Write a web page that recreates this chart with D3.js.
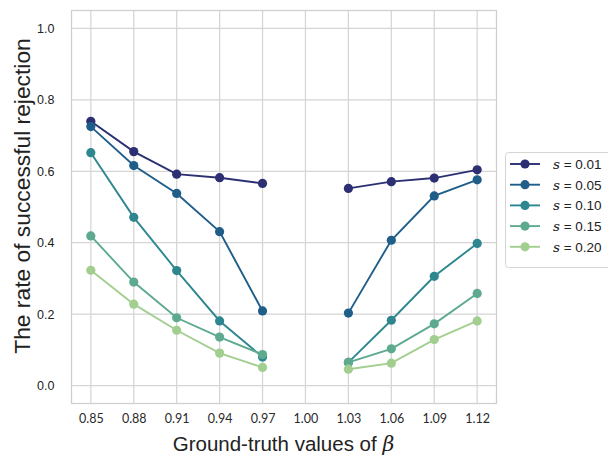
<!DOCTYPE html>
<html><head><meta charset="utf-8">
<script src="https://cdn.jsdelivr.net/npm/d3@7"></script>
<style>body{margin:0;background:#fff}svg{display:block}</style>
</head><body>
<script>
const betaValues = [0.85, 0.88, 0.91, 0.94, 0.97, 1.00, 1.03, 1.06, 1.09, 1.12];
const tickLabels = ["0.85","0.88","0.91","0.94","0.97","1.00","1.03","1.06","1.09","1.12"];
const yTicks = [0.0, 0.2, 0.4, 0.6, 0.8, 1.0];
const seriesNames = ["0.01", "0.05", "0.10", "0.15", "0.20"];
const s001 = [0.740, 0.655, 0.592, 0.582, 0.566, null, 0.552, 0.571, 0.581, 0.604];
const s005 = [0.725, 0.616, 0.538, 0.431, 0.209, null, 0.203, 0.407, 0.531, 0.576];
const s010 = [0.652, 0.471, 0.322, 0.181, 0.080, null, 0.065, 0.183, 0.306, 0.398];
const s015 = [0.419, 0.290, 0.190, 0.136, 0.087, null, 0.065, 0.103, 0.173, 0.258];
const s020 = [0.323, 0.228, 0.155, 0.091, 0.051, null, 0.046, 0.063, 0.129, 0.181];
const seriesValues = [s001, s005, s010, s015, s020];
const colors = ["#2c2f72", "#205e8a", "#2e878f", "#5eaa8f", "#a2cf90"];

const W = 608, H = 459;
const pL = 71.5, pR = 496.5, pT = 10.5, pB = 403.5;
const svg = d3.select("body").append("svg").attr("width", W).attr("height", H);

const xs = d3.scaleLinear().domain([0.85 - 0.0135, 1.12 + 0.0135]).range([pL, pR]);
const ys = d3.scaleLinear().domain([-0.05, 1.05]).range([pB, pT]);

// grid
const grid = svg.append("g");
grid.selectAll("line.v").data(betaValues).enter().append("line")
  .attr("x1", d => xs(d)).attr("x2", d => xs(d)).attr("y1", pT).attr("y2", pB)
  .attr("stroke", "#d5d5d5").attr("stroke-width", 1.25);
grid.selectAll("line.h").data(yTicks).enter().append("line")
  .attr("y1", d => ys(d)).attr("y2", d => ys(d)).attr("x1", pL).attr("x2", pR)
  .attr("stroke", "#d5d5d5").attr("stroke-width", 1.25);

// axes
const xAxis = d3.axisBottom(xs).tickValues(betaValues).tickFormat((d,i) => tickLabels[i]).tickSize(0).tickPadding(11);
const gx = svg.append("g").attr("transform", `translate(0,${pB})`).call(xAxis);
gx.select(".domain").remove();
gx.selectAll("text").attr("font-family", "Lato, 'Liberation Sans', sans-serif").attr("font-size", 12.5).attr("fill", "#2a2a2a");

const yAxis = d3.axisLeft(ys).tickValues(yTicks).tickFormat(d3.format(".1f")).tickSize(0).tickPadding(17);
const gy = svg.append("g").attr("transform", `translate(${pL},0)`).call(yAxis);
gy.select(".domain").remove();
gy.selectAll("text").attr("font-family", "'Liberation Sans', Arial, sans-serif").attr("font-size", 12.5).attr("fill", "#222");

// frame
svg.append("rect").attr("x", pL).attr("y", pT).attr("width", pR - pL).attr("height", pB - pT)
  .attr("fill", "none").attr("stroke", "#cfcfcf").attr("stroke-width", 1.25);

// labels
const xl = svg.append("text").attr("x", 283.5).attr("y", 451).attr("text-anchor", "middle")
  .attr("font-family", "'Liberation Sans', Arial, sans-serif").attr("font-size", 20.5).attr("fill", "#222");
xl.append("tspan").text("Ground-truth values of ");
xl.append("tspan").attr("font-style", "italic").attr("font-family", "'DejaVu Serif', serif").text("β");

svg.append("text").attr("transform", `translate(30,196) rotate(-90)`).attr("text-anchor", "middle")
  .attr("font-family", "'Liberation Sans', Arial, sans-serif").attr("font-size", 22.8).attr("fill", "#222")
  .text("The rate of successful rejection");

// lines
const line = d3.line().defined(d => d.v !== null).x(d => xs(d.x)).y(d => ys(d.v));
seriesValues.forEach((vals, k) => {
  const pts = vals.map((v, i) => ({x: betaValues[i], v}));
  const g = svg.append("g");
  g.append("path").datum(pts).attr("d", line).attr("fill", "none").attr("stroke", colors[k]).attr("stroke-width", 1.9);
  g.selectAll("circle").data(pts.filter(p => p.v !== null)).enter().append("circle")
    .attr("cx", d => xs(d.x)).attr("cy", d => ys(d.v)).attr("r", 4.6).attr("fill", colors[k]);
});

// legend
const lg = svg.append("g");
lg.append("rect").attr("x", 505.5).attr("y", 152.5).attr("width", 120).attr("height", 115).attr("rx", 3)
  .attr("fill", "#fff").attr("stroke", "#d5d5d5").attr("stroke-width", 1);
seriesNames.forEach((n, k) => {
  const y = 164 + k * 20.7;
  lg.append("line").attr("x1", 510).attr("x2", 540).attr("y1", y).attr("y2", y).attr("stroke", colors[k]).attr("stroke-width", 1.9);
  lg.append("circle").attr("cx", 525).attr("cy", y).attr("r", 4.6).attr("fill", colors[k]);
  const t = lg.append("text").attr("x", 553).attr("y", y + 5).attr("font-family", "'Liberation Sans', Arial, sans-serif")
    .attr("font-size", 13.5).attr("fill", "#222");
  t.append("tspan").attr("font-style", "italic").attr("font-family", "'DejaVu Serif', serif").text("s");
  t.append("tspan").text(" = " + n);
});
</script>
</body></html>
